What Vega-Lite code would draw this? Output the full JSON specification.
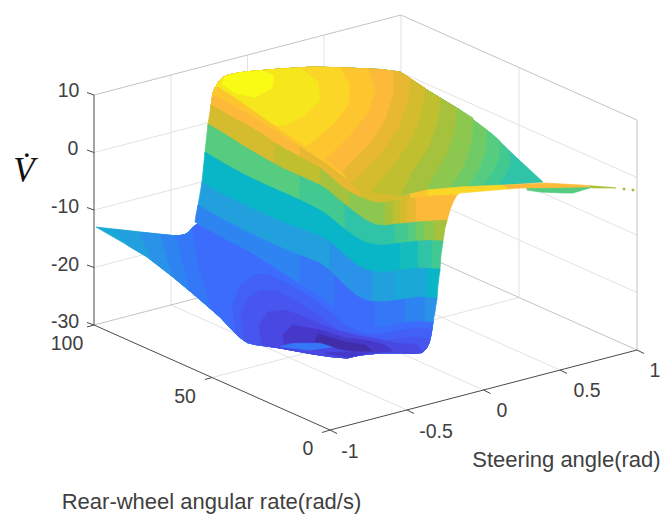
{"$schema":"https://vega.github.io/schema/vega-lite/v6.json","width":663,"height":515,"padding":0,"autosize":{"type":"fit","contains":"padding"},"background":"white","view":{"stroke":null},"projection":{"type":"identity","scale":1,"translate":[0,0]},
"layer":[
{"data":{"values":[
{"type":"Feature","name":"wall z","geometry":{"type":"LineString","coordinates":[[94,152.5],[401,72.5],[637,177.5]]}},
{"type":"Feature","name":"wall z","geometry":{"type":"LineString","coordinates":[[94,210],[401,130],[637,235]]}},
{"type":"Feature","name":"wall z","geometry":{"type":"LineString","coordinates":[[94,267.5],[401,187.5],[637,292.5]]}},
{"type":"Feature","name":"steer -0.5","geometry":{"type":"LineString","coordinates":[[407,410],[171,305],[171,75]]}},
{"type":"Feature","name":"steer 0","geometry":{"type":"LineString","coordinates":[[483.5,390],[247.5,285],[247.5,55]]}},
{"type":"Feature","name":"steer 0.5","geometry":{"type":"LineString","coordinates":[[560,370],[324,265],[324,35]]}},
{"type":"Feature","name":"rate 50","geometry":{"type":"LineString","coordinates":[[212,377.5],[519,297.5],[519,67.5]]}},
{"type":"Feature","name":"back edge","geometry":{"type":"LineString","coordinates":[[401,15],[401,245]]}}
]},"mark":{"type":"geoshape","filled":false,"stroke":"#e2e2e2","strokeWidth":1},"encoding":{}},
{"data":{"values":[
{"type":"Feature","name":"floor back","geometry":{"type":"LineString","coordinates":[[94,325],[401,245],[637,350]]}},
{"type":"Feature","name":"box top","geometry":{"type":"LineString","coordinates":[[94,95],[401,15],[637,120],[637,350]]}}
]},"mark":{"type":"geoshape","filled":false,"stroke":"#c4c4c4","strokeWidth":1},"encoding":{}},
{"data":{"values":[
{"type":"Feature","name":"V axis","geometry":{"type":"LineString","coordinates":[[94,95],[94,325]]}},
{"type":"Feature","name":"rate axis","geometry":{"type":"LineString","coordinates":[[94,325],[330,430]]}},
{"type":"Feature","name":"steer axis","geometry":{"type":"LineString","coordinates":[[330,430],[637,350]]}},
{"type":"Feature","name":"tick","geometry":{"type":"LineString","coordinates":[[87,92.5],[94,95]]}},
{"type":"Feature","name":"tick","geometry":{"type":"LineString","coordinates":[[87,150],[94,152.5]]}},
{"type":"Feature","name":"tick","geometry":{"type":"LineString","coordinates":[[87,207.5],[94,210]]}},
{"type":"Feature","name":"tick","geometry":{"type":"LineString","coordinates":[[87,265],[94,267.5]]}},
{"type":"Feature","name":"tick","geometry":{"type":"LineString","coordinates":[[87,322.5],[94,325]]}},
{"type":"Feature","name":"tick","geometry":{"type":"LineString","coordinates":[[87,327],[94,325]]}},
{"type":"Feature","name":"tick","geometry":{"type":"LineString","coordinates":[[205,379.5],[212,377.5]]}},
{"type":"Feature","name":"tick","geometry":{"type":"LineString","coordinates":[[322,432.5],[330,430]]}},
{"type":"Feature","name":"tick","geometry":{"type":"LineString","coordinates":[[330,430],[337,433.5]]}},
{"type":"Feature","name":"tick","geometry":{"type":"LineString","coordinates":[[407,410],[414,413.5]]}},
{"type":"Feature","name":"tick","geometry":{"type":"LineString","coordinates":[[483.5,390],[490.5,393.5]]}},
{"type":"Feature","name":"tick","geometry":{"type":"LineString","coordinates":[[560,370],[567,373.5]]}},
{"type":"Feature","name":"tick","geometry":{"type":"LineString","coordinates":[[637,350],[644,353.5]]}}
]},"mark":{"type":"geoshape","filled":false,"stroke":"#4a4a4a","strokeWidth":1},"encoding":{}},
{"data":{"values":[
{"type":"Feature","shade":"c1","geometry":{"type":"Polygon","coordinates":[[[96,227],[172,235.5],[180,235.5],[185,234.5],[189,232],[192,228],[200,222],[250,245],[320,280],[360,310],[430,305],[433,322],[431,335],[429,343],[426,349],[422,352.5],[414,353.5],[402,353],[380,353],[360,355],[347,358],[330,356.5],[313,354],[280,348],[255,344.5],[247,342.5],[242,339],[237,335],[220,317],[197,297],[173,277],[147,257],[122,242],[96,227]]]}},
{"type":"Feature","shade":"c2","geometry":{"type":"Polygon","coordinates":[[[115,229.5],[172,235.5],[180,235.5],[185,234.5],[189,232],[192,228],[200,222],[250,245],[320,280],[360,310],[430,305],[433,322],[431,335],[429,343],[426,349],[422,352.5],[414,353.5],[402,353],[380,353],[360,355],[347,358],[330,356.5],[313,354],[280,348],[255,344.5],[247,342.5],[242,339],[237,335],[220,317],[197,297],[173,277],[147,257],[128,245.5],[115,229.5]]]}},
{"type":"Feature","shade":"b1","geometry":{"type":"Polygon","coordinates":[[[140,232.5],[172,235.5],[180,235.5],[185,234.5],[189,232],[192,228],[200,222],[250,245],[320,280],[360,310],[430,305],[433,322],[431,335],[429,343],[426,349],[422,352.5],[414,353.5],[402,353],[380,353],[360,355],[347,358],[330,356.5],[313,354],[280,348],[255,344.5],[247,342.5],[242,339],[237,335],[220,317],[197,297],[173,277],[152,260.5],[140,232.5]]]}},
{"type":"Feature","shade":"b2","geometry":{"type":"Polygon","coordinates":[[[160,234.5],[172,235.5],[180,235.5],[185,234.5],[189,232],[192,228],[200,222],[250,245],[320,280],[360,310],[430,305],[433,322],[431,335],[429,343],[426,349],[422,352.5],[414,353.5],[402,353],[380,353],[360,355],[347,358],[330,356.5],[313,354],[280,348],[255,344.5],[247,342.5],[242,339],[237,335],[220,317],[197,297],[173,277],[160,234.5]]]}},
{"type":"Feature","shade":"b3","geometry":{"type":"Polygon","coordinates":[[[176,235.5],[180,235.5],[185,234.5],[189,232],[192,228],[200,222],[250,245],[320,280],[360,310],[430,305],[433,322],[431,335],[429,343],[426,349],[422,352.5],[414,353.5],[402,353],[380,353],[360,355],[347,358],[330,356.5],[313,354],[280,348],[255,344.5],[247,342.5],[242,339],[237,335],[220,317],[197,297],[190,291],[176,235.5]]]}},
{"type":"Feature","shade":"b4","geometry":{"type":"Polygon","coordinates":[[[192,228],[200,222],[250,245],[320,280],[360,310],[430,305],[433,322],[431,335],[429,343],[426,349],[422,352.5],[414,353.5],[402,353],[380,353],[360,355],[347,358],[330,356.5],[313,354],[280,348],[255,344.5],[247,342.5],[242,339],[237,335],[220,317],[212,310],[200,270],[192,228]]]}},
{"type":"Feature","shade":"v1","geometry":{"type":"Polygon","coordinates":[[[236,334],[232,305],[240,286],[255,274],[268,275],[282,281],[302,292],[320,304],[337,318],[347,326],[357,331],[367,334],[377,334.5],[397,331],[417,328],[432,329],[431,335],[429,343],[426,349],[422,352.5],[414,353.5],[402,353],[380,353],[360,355],[347,358],[330,356.5],[313,354],[280,348],[255,344.5],[247,342.5],[242,339],[236,334]]]}},
{"type":"Feature","shade":"v2","geometry":{"type":"Polygon","coordinates":[[[245,341],[241,315],[248,298],[262,290],[276,291],[290,298],[305,307],[320,316],[337,330],[347,337],[357,342],[377,342],[397,339],[417,337],[430,340],[429,343],[426,349],[422,352.5],[414,353.5],[402,353],[380,353],[360,355],[347,358],[330,356.5],[313,354],[280,348],[255,344.5],[245,341]]]}},
{"type":"Feature","shade":"v3","geometry":{"type":"Polygon","coordinates":[[[262,345],[259,325],[268,312],[285,310],[302,316],[320,324],[340,331],[360,336],[378,339],[395,343],[418,345],[422,352.5],[414,353.5],[402,353],[380,353],[360,355],[347,358],[330,356.5],[313,354],[280,348],[262,345]]]}},
{"type":"Feature","shade":"v4","geometry":{"type":"Polygon","coordinates":[[[285,349],[283,335],[292,325],[320,330],[345,338],[365,340],[385,345],[392,351],[360,354],[347,357],[330,356],[313,353.5],[285,349]]]}},
{"type":"Feature","shade":"v5","geometry":{"type":"Polygon","coordinates":[[[315,342],[318,334],[345,342],[365,345],[372,351],[345,351],[325,346],[315,342]]]}},
{"type":"Feature","shade":"v3","geometry":{"type":"Polygon","coordinates":[[[270,346],[285,344.5],[293,343],[320,343],[340,350],[360,353],[380,353],[360,355],[347,358],[330,356.5],[313,354],[280,348],[270,346]]]}},
{"type":"Feature","shade":"b3","geometry":{"type":"Polygon","coordinates":[[[280,346.5],[293,343.5],[320,343.5],[332,347],[310,350],[292,348],[280,346.5]]]}},
{"type":"Feature","shade":"v4","geometry":{"type":"Polygon","coordinates":[[[325,353],[345,352],[368,353.5],[347,357.5],[325,353]]]}},
{"type":"Feature","shade":"g3","geometry":{"type":"Polygon","coordinates":[[[213,93],[215,88],[218,83],[222,78],[228,75],[238,73],[250,71.5],[280,69],[313,67],[347,68],[380,69.5],[400,72],[427,90],[460,110],[493,135],[517,158],[543,182],[503,185],[460,187],[427,190],[393,198],[360,199],[320,172],[282,150],[245,127],[211,107],[213,93]]]}},
{"type":"Feature","shade":"g2","geometry":{"type":"Polygon","coordinates":[[[213,93],[215,88],[218,83],[222,78],[228,75],[238,73],[250,71.5],[280,69],[313,67],[347,68],[380,69.5],[400,72],[427,90],[460,110],[493,135],[510,152],[510,165],[505,176],[497,185],[460,187],[427,190],[393,198],[360,199],[320,172],[282,150],[245,127],[211,107],[213,93]]]}},
{"type":"Feature","shade":"g1","geometry":{"type":"Polygon","coordinates":[[[213,93],[215,88],[218,83],[222,78],[228,75],[238,73],[250,71.5],[280,69],[313,67],[347,68],[380,69.5],[400,72],[427,90],[460,110],[493,135],[500,141],[499,158],[493,172],[482,186],[460,187],[427,190],[393,198],[360,199],[320,172],[282,150],[245,127],[211,107],[213,93]]]}},
{"type":"Feature","shade":"l3","geometry":{"type":"Polygon","coordinates":[[[213,93],[215,88],[218,83],[222,78],[228,75],[238,73],[250,71.5],[280,69],[313,67],[347,68],[380,69.5],[400,72],[427,90],[460,110],[487,130],[486,150],[479,168],[468,187],[427,190],[393,198],[360,199],[320,172],[282,150],[245,127],[211,107],[213,93]]]}},
{"type":"Feature","shade":"l2","geometry":{"type":"Polygon","coordinates":[[[213,93],[215,88],[218,83],[222,78],[228,75],[238,73],[250,71.5],[280,69],[313,67],[347,68],[380,69.5],[400,72],[427,90],[460,110],[473,118],[472,140],[464,165],[450,188],[427,190],[393,198],[360,199],[320,172],[282,150],[245,127],[211,107],[213,93]]]}},
{"type":"Feature","shade":"l1","geometry":{"type":"Polygon","coordinates":[[[213,93],[215,88],[218,83],[222,78],[228,75],[238,73],[250,71.5],[280,69],[313,67],[347,68],[380,69.5],[400,72],[427,90],[457,108],[455,130],[446,155],[425,191],[393,198],[360,199],[320,172],[282,150],[245,127],[211,107],[213,93]]]}},
{"type":"Feature","shade":"o4","geometry":{"type":"Polygon","coordinates":[[[213,93],[215,88],[218,83],[222,78],[228,75],[238,73],[250,71.5],[280,69],[313,67],[347,68],[380,69.5],[400,72],[427,90],[440,98],[438,120],[428,148],[412,172],[400,196],[393,198],[360,199],[320,172],[282,150],[245,127],[211,107],[213,93]]]}},
{"type":"Feature","shade":"o3","geometry":{"type":"Polygon","coordinates":[[[213,93],[215,88],[218,83],[222,78],[228,75],[238,73],[250,71.5],[280,69],[313,67],[347,68],[380,69.5],[400,72],[425,88],[422,110],[412,138],[395,163],[378,183],[365,199],[360,199],[320,172],[282,150],[245,127],[211,107],[213,93]]]}},
{"type":"Feature","shade":"o2","geometry":{"type":"Polygon","coordinates":[[[213,93],[215,88],[218,83],[222,78],[228,75],[238,73],[250,71.5],[280,69],[313,67],[347,68],[380,69.5],[400,72],[410,78],[408,100],[398,128],[382,152],[362,172],[345,188],[320,172],[282,150],[245,127],[211,107],[213,93]]]}},
{"type":"Feature","shade":"o1","geometry":{"type":"Polygon","coordinates":[[[213,93],[215,88],[218,83],[222,78],[228,75],[238,73],[250,71.5],[280,69],[313,67],[347,68],[380,69.5],[393,71],[393,95],[385,120],[368,145],[350,163],[335,180],[320,172],[282,150],[245,127],[211,107],[213,93]]]}},
{"type":"Feature","shade":"y3","geometry":{"type":"Polygon","coordinates":[[[213,93],[215,88],[218,83],[222,78],[228,75],[238,73],[250,71.5],[280,69],[313,67],[347,68],[368,69],[375,90],[368,112],[350,135],[335,150],[318,165],[282,150],[245,127],[211,107],[213,93]]]}},
{"type":"Feature","shade":"y2","geometry":{"type":"Polygon","coordinates":[[[213,93],[215,88],[218,83],[222,78],[228,75],[238,73],[250,71.5],[280,69],[313,67],[340,68],[350,85],[348,105],[332,125],[315,140],[300,150],[282,150],[245,127],[211,107],[213,93]]]}},
{"type":"Feature","shade":"y1","geometry":{"type":"Polygon","coordinates":[[[213,93],[215,88],[218,83],[222,78],[228,75],[238,73],[250,71.5],[280,69],[300,68],[318,82],[320,100],[305,115],[285,125],[245,127],[211,107],[213,93]]]}},
{"type":"Feature","shade":"y0","geometry":{"type":"Polygon","coordinates":[[[225,76.5],[238,73],[250,71.5],[262,70.5],[274,76],[272,88],[255,97],[235,93],[222,84],[225,76.5]]]}},
{"type":"Feature","shade":"o3","geometry":{"type":"Polygon","coordinates":[[[355,192],[395,195],[395,205],[370,205],[355,198],[355,192]]]}},
{"type":"Feature","shade":"g1","geometry":{"type":"Polygon","coordinates":[[[527,188],[560,187],[593,187],[573,193],[563,193],[540,192],[527,190],[527,188]]]}},
{"type":"Feature","shade":"o1","geometry":{"type":"Polygon","coordinates":[[[503,185],[545,183],[580,185],[600,186.5],[560,187.5],[520,188],[507,189],[503,185]]]}},
{"type":"Feature","shade":"l1","geometry":{"type":"Polygon","coordinates":[[[590,186],[607,187],[616,188],[593,188],[590,186]]]}},
{"type":"Feature","shade":"l1","geometry":{"type":"Polygon","coordinates":[[[623,188],[625,188],[625,190],[623,190],[623,188]]]}},
{"type":"Feature","shade":"l1","geometry":{"type":"Polygon","coordinates":[[[632,189],[634,189],[634,191],[632,191],[632,189]]]}},
{"type":"Feature","shade":"o3","geometry":{"type":"Polygon","coordinates":[[[375,199],[393,198],[410,194],[412,200],[395,205],[378,205],[375,199]]]}},
{"type":"Feature","shade":"y3","geometry":{"type":"Polygon","coordinates":[[[410,194],[427,190],[430,199],[412,200],[410,194]]]}},
{"type":"Feature","shade":"y2","geometry":{"type":"Polygon","coordinates":[[[427,190],[460,187],[503,185],[507,189],[460,193],[457,195],[430,199],[427,190]]]}},
{"type":"Feature","shade":"y3","geometry":{"type":"Polygon","coordinates":[[[215,88],[218,87],[238,100],[262,117],[295,140],[325,160],[340,171],[345,176],[345,182],[325,168],[305,155],[282,140],[258,125],[235,112],[212,100],[213,93],[215,88]]]}},
{"type":"Feature","shade":"o1","geometry":{"type":"Polygon","coordinates":[[[213,95],[235,107],[258,120],[282,135],[300,146.5],[300,162],[282,150],[245,127],[210.5,108],[211,105],[213,95]]]}},
{"type":"Feature","shade":"o2","geometry":{"type":"Polygon","coordinates":[[[300,146.5],[305,150],[325,163],[345,178],[360,192],[360,199],[340,188],[320,172],[300,160],[300,146.5]]]}},
{"type":"Feature","shade":"o3","geometry":{"type":"Polygon","coordinates":[[[211,105],[232,117],[245,124],[264,135],[275,143],[275,170],[245,150],[207.7,127],[208,124],[209.5,115],[211,105]]]}},
{"type":"Feature","shade":"o4","geometry":{"type":"Polygon","coordinates":[[[275,143],[282,147],[302,158],[320,168],[322,169.5],[322,190],[275,168],[275,143]]]}},
{"type":"Feature","shade":"l1","geometry":{"type":"Polygon","coordinates":[[[320,168],[330,176],[340,185],[350,192],[352,193],[352,214],[337,202],[320,189],[320,168]]]}},
{"type":"Feature","shade":"l2","geometry":{"type":"Polygon","coordinates":[[[350,192],[360,197],[370,201],[380,203],[385,202.5],[385,229],[367,224],[350,212],[350,192]]]}},
{"type":"Feature","shade":"l1","geometry":{"type":"Polygon","coordinates":[[[385,202.5],[393,201],[393,229],[385,229],[385,202.5]]]}},
{"type":"Feature","shade":"o4","geometry":{"type":"Polygon","coordinates":[[[393,201],[400,200],[400,228],[393,228],[393,201]]]}},
{"type":"Feature","shade":"o3","geometry":{"type":"Polygon","coordinates":[[[400,200],[407,199],[407,227],[400,228],[400,200]]]}},
{"type":"Feature","shade":"o2","geometry":{"type":"Polygon","coordinates":[[[407,199],[416,197.7],[416,226],[407,227],[407,199]]]}},
{"type":"Feature","shade":"o1","geometry":{"type":"Polygon","coordinates":[[[416,197.7],[440,195.5],[457,195],[453,202],[450,210],[448,217],[445.5,226],[416,226],[416,197.7]]]}},
{"type":"Feature","shade":"g1","geometry":{"type":"Polygon","coordinates":[[[208,124],[228,136],[245,147],[264,158],[282,168],[300,176],[300,203],[282,195],[245,178],[204.7,155],[205,152],[206.5,138],[208,124]]]}},
{"type":"Feature","shade":"g2","geometry":{"type":"Polygon","coordinates":[[[300,176],[320,185],[329,191],[337,198],[345,204.5],[345,233],[337,226],[320,213],[300,203],[300,176]]]}},
{"type":"Feature","shade":"g3","geometry":{"type":"Polygon","coordinates":[[[345,204.5],[357,214],[367,221],[377,225],[387,225.5],[395,224.2],[395,247],[377,248],[357,241],[345,233],[345,204.5]]]}},
{"type":"Feature","shade":"g2","geometry":{"type":"Polygon","coordinates":[[[395,224.2],[408,223],[408,245],[395,247],[395,224.2]]]}},
{"type":"Feature","shade":"g1","geometry":{"type":"Polygon","coordinates":[[[408,223],[416,222.1],[416,244],[408,245],[408,223]]]}},
{"type":"Feature","shade":"l3","geometry":{"type":"Polygon","coordinates":[[[416,222.1],[424,221.6],[424,243],[416,244],[416,222.1]]]}},
{"type":"Feature","shade":"l2","geometry":{"type":"Polygon","coordinates":[[[424,221.6],[432,221],[434,220.8],[434,243],[424,243],[424,221.6]]]}},
{"type":"Feature","shade":"l1","geometry":{"type":"Polygon","coordinates":[[[434,220.8],[447,220],[445,228],[443,241],[442.5,244],[434,243],[434,220.8]]]}},
{"type":"Feature","shade":"t2","geometry":{"type":"Polygon","coordinates":[[[205,152],[225,164],[245,175],[264,184],[282,192],[302,201],[320,210],[329,216],[337,223],[347,231],[357,238],[367,243],[377,245],[387,245],[397,243.5],[400,243.2],[400,273],[377,275],[357,268],[337,251],[320,239],[282,225],[245,208],[201.6,185],[202,182],[203.5,167],[205,152]]]}},
{"type":"Feature","shade":"t1","geometry":{"type":"Polygon","coordinates":[[[400,243.2],[417,241],[418,241],[418,271],[400,273],[400,243.2]]]}},
{"type":"Feature","shade":"g3","geometry":{"type":"Polygon","coordinates":[[[418,241],[430,240.5],[432,240.5],[432,271],[418,271],[418,241]]]}},
{"type":"Feature","shade":"g2","geometry":{"type":"Polygon","coordinates":[[[432,240.5],[443,241],[441,255],[440,269],[439.7,272],[432,271],[432,240.5]]]}},
{"type":"Feature","shade":"c2","geometry":{"type":"Polygon","coordinates":[[[202,182],[222,194],[245,205],[264,214],[282,222],[302,229],[320,236],[329,241],[330,241.7],[330,274],[320,266],[282,251],[245,234],[197.5,208],[198,205],[200,194],[202,182]]]}},
{"type":"Feature","shade":"b1","geometry":{"type":"Polygon","coordinates":[[[330,241.7],[337,248],[347,257],[357,265],[367,270],[372,271.2],[372,305],[357,299],[337,281],[330,274],[330,241.7]]]}},
{"type":"Feature","shade":"c2","geometry":{"type":"Polygon","coordinates":[[[372,271.2],[377,272],[387,272],[395,270.8],[395,303.5],[372,305],[372,271.2]]]}},
{"type":"Feature","shade":"c1","geometry":{"type":"Polygon","coordinates":[[[395,270.8],[397,270.5],[417,268],[428,268.4],[428,300.5],[395,303.5],[395,270.8]]]}},
{"type":"Feature","shade":"t2","geometry":{"type":"Polygon","coordinates":[[[428,268.4],[440,269],[438,285],[437,298],[436.5,301],[428,300.5],[428,268.4]]]}},
{"type":"Feature","shade":"b2","geometry":{"type":"Polygon","coordinates":[[[198,205],[222,219],[245,231],[264,240],[282,248],[300,255.2],[300,283.7],[282,272],[265,261],[247,250],[222,237],[195,222],[196,215],[198,205]]]}},
{"type":"Feature","shade":"b3","geometry":{"type":"Polygon","coordinates":[[[300,255.2],[302,256],[320,263],[329,270],[335,276],[335,308.2],[329,303],[320,296],[302,285],[300,283.7],[300,255.2]]]}},
{"type":"Feature","shade":"b4","geometry":{"type":"Polygon","coordinates":[[[335,276],[337,278],[347,288],[357,296],[367,301],[375,301.8],[375,326.9],[367,326.5],[357,323],[347,317],[337,310],[335,308.2],[335,276]]]}},
{"type":"Feature","shade":"b3","geometry":{"type":"Polygon","coordinates":[[[375,301.8],[377,302],[387,301.5],[397,300],[405,298.8],[405,322.3],[397,323.5],[387,325.5],[377,327],[375,326.9],[375,301.8]]]}},
{"type":"Feature","shade":"b2","geometry":{"type":"Polygon","coordinates":[[[405,298.8],[417,297],[425,297.4],[425,321.3],[417,320.5],[405,322.3],[405,298.8]]]}},
{"type":"Feature","shade":"b1","geometry":{"type":"Polygon","coordinates":[[[425,297.4],[437,298],[435,312],[433,322],[425,321.3],[425,297.4]]]}}
]},"mark":{"type":"geoshape","strokeWidth":0.7},
"encoding":{"fill":{"field":"shade","type":"nominal","legend":null,"scale":{"domain":["y0","y1","y2","y3","o1","o2","o3","o4","l1","l2","l3","g1","g2","g3","t1","t2","c1","c2","b1","b2","b3","b4","v1","v2","v3","v4","v5"],"range":["#f9fb15","#f6e71d","#fbd626","#fdc62e","#fdb93a","#e8b832","#d4bc2e","#c0bf30","#a6c23c","#8cc850","#70cb66","#55cc80","#42c992","#2fc3a8","#14bcbc","#08b6c8","#1aa9d6","#22a0de","#2a92e8","#2e85f2","#3478f8","#3c6cfc","#4260f6","#4756ee","#4a48e2","#4638c8","#3f2ea8"]}},
"stroke":{"field":"shade","type":"nominal","legend":null,"scale":{"domain":["y0","y1","y2","y3","o1","o2","o3","o4","l1","l2","l3","g1","g2","g3","t1","t2","c1","c2","b1","b2","b3","b4","v1","v2","v3","v4","v5"],"range":["#f9fb15","#f6e71d","#fbd626","#fdc62e","#fdb93a","#e8b832","#d4bc2e","#c0bf30","#a6c23c","#8cc850","#70cb66","#55cc80","#42c992","#2fc3a8","#14bcbc","#08b6c8","#1aa9d6","#22a0de","#2a92e8","#2e85f2","#3478f8","#3c6cfc","#4260f6","#4756ee","#4a48e2","#4638c8","#3f2ea8"]}}}},
{"data":{"values":[
{"label":"10","u":68.5,"v":91},{"label":"0","u":73,"v":149},{"label":"-10","u":65,"v":207},{"label":"-20","u":65,"v":265},{"label":"-30","u":65,"v":322},
{"label":"100","u":67,"v":344},{"label":"50","u":185,"v":397},{"label":"0","u":308,"v":449},
{"label":"-1","u":350,"v":452},{"label":"-0.5","u":436,"v":432},{"label":"0","u":502,"v":411},{"label":"0.5","u":587,"v":391},{"label":"1","u":655,"v":371}
]},"mark":{"type":"text","font":"Liberation Sans","fontSize":19.5,"fill":"#404040","align":"center","baseline":"middle"},
"encoding":{"longitude":{"field":"u","type":"quantitative"},"latitude":{"field":"v","type":"quantitative"},"text":{"field":"label"}}},
{"data":{"values":[
{"label":"Steering angle(rad)","u":566.5,"v":460},{"label":"Rear-wheel angular rate(rad/s)","u":211.5,"v":502}
]},"mark":{"type":"text","font":"Liberation Sans","fontSize":22,"fill":"#404040","align":"center","baseline":"middle"},
"encoding":{"longitude":{"field":"u","type":"quantitative"},"latitude":{"field":"v","type":"quantitative"},"text":{"field":"label"}}},
{"data":{"values":[{"label":"V̇","u":24,"v":171}]},"mark":{"type":"text","font":"Liberation Serif","fontStyle":"italic","fontSize":35,"fill":"#111111","align":"center","baseline":"middle"},
"encoding":{"longitude":{"field":"u","type":"quantitative"},"latitude":{"field":"v","type":"quantitative"},"text":{"field":"label"}}}
]}
